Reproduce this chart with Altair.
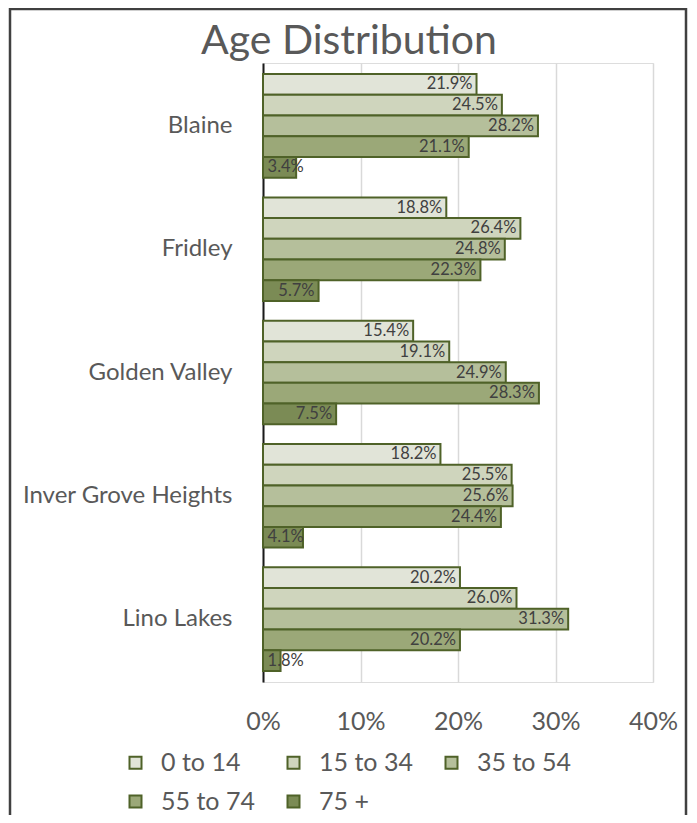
import altair as alt
import pandas as pd

cities = ["Blaine", "Fridley", "Golden Valley", "Inver Grove Heights", "Lino Lakes"]
ages = ["0 to 14", "15 to 34", "35 to 54", "55 to 74", "75 +"]
values = {
    "Blaine": [21.9, 24.5, 28.2, 21.1, 3.4],
    "Fridley": [18.8, 26.4, 24.8, 22.3, 5.7],
    "Golden Valley": [15.4, 19.1, 24.9, 28.3, 7.5],
    "Inver Grove Heights": [18.2, 25.5, 25.6, 24.4, 4.1],
    "Lino Lakes": [20.2, 26.0, 31.3, 20.2, 1.8],
}
colors = ["#e1e4d8", "#cfd5bd", "#b5bf9b", "#9ba878", "#7b8b55"]
x_ticks = [0, 10, 20, 30, 40]
title_text = "Age Distribution"

rows = []
for c in cities:
    for a, v in zip(ages, values[c]):
        rows.append({"city": c, "age": a, "value": v})
df = pd.DataFrame(rows)

FONT = "Lato"
GRAY = "#595959"
OLIVE = "#4f6228"

y_enc = alt.Y("city:N", sort=cities, title=None,
              scale=alt.Scale(paddingInner=0.16, paddingOuter=0.09),
              axis=alt.Axis(labelFont=FONT, labelFontSize=24, labelColor=GRAY,
                            labelPadding=31, ticks=False, domainColor="#1a1a1a",
                            domainWidth=2, labelLimit=300))
yoff_enc = alt.YOffset("age:N", sort=ages, scale=alt.Scale(paddingInner=0.0))

base = alt.Chart(df)

bars = base.mark_bar(stroke=OLIVE, strokeWidth=2).encode(
    x=alt.X("value:Q", title=None,
            scale=alt.Scale(domain=[0, 40], nice=False),
            axis=alt.Axis(values=x_ticks, labelExpr="datum.value + '%'",
                          labelFont=FONT, labelFontSize=25, labelColor=GRAY,
                          labelPadding=27, labelFlush=False, ticks=False,
                          domain=False, grid=True, gridColor="#d9d9d9",
                          gridWidth=1.5)),
    y=y_enc,
    yOffset=yoff_enc,
    color=alt.Color("age:N", sort=ages,
                    scale=alt.Scale(domain=ages, range=colors),
                    legend=alt.Legend(title=None, orient="none", columns=3,
                                      direction="horizontal", gridAlign="all",
                                      legendX=-140, legendY=687,
                                      symbolType="square", symbolSize=144,
                                      symbolStrokeColor=OLIVE, symbolStrokeWidth=2,
                                      symbolOpacity=1,
                                      labelFont=FONT, labelFontSize=25,
                                      labelColor=GRAY, labelOffset=13,
                                      columnPadding=26, rowPadding=13,
                                      labelLimit=300)),
)

labels = base.transform_calculate(
    pos="max(datum.value, 4.6)",
    lab="format(datum.value, '.1f') + '%'",
).mark_text(align="right", baseline="middle", dx=-4, font=FONT,
            fontSize=16.5, color="#404040").encode(
    x=alt.X("pos:Q"),
    y=alt.Y("city:N", sort=cities),
    yOffset=yoff_enc,
    text="lab:N",
)

frame = alt.Chart(pd.DataFrame({"k": [0]})).mark_rect(
    fill=None, stroke="#404040", strokeWidth=2.5).encode(
    x=alt.value(-253), x2=alt.value(423),
    y=alt.value(-54), y2=alt.value(800),
)

title = alt.Chart(pd.DataFrame({"t": [title_text]})).mark_text(
    font=FONT, fontSize=41, color=GRAY, align="center", baseline="middle").encode(
    x=alt.value(86), y=alt.value(-21), text="t:N",
)

chart = alt.layer(frame, title, bars, labels).properties(
    width=390, height=619,
    autosize=alt.AutoSizeParams(type="none"),
    padding={"left": 255, "top": 55, "right": 36, "bottom": 133},
).configure_view(stroke=None).configure(background="white")

chart.save("out.html", embed_options={"renderer": "svg", "actions": False})
